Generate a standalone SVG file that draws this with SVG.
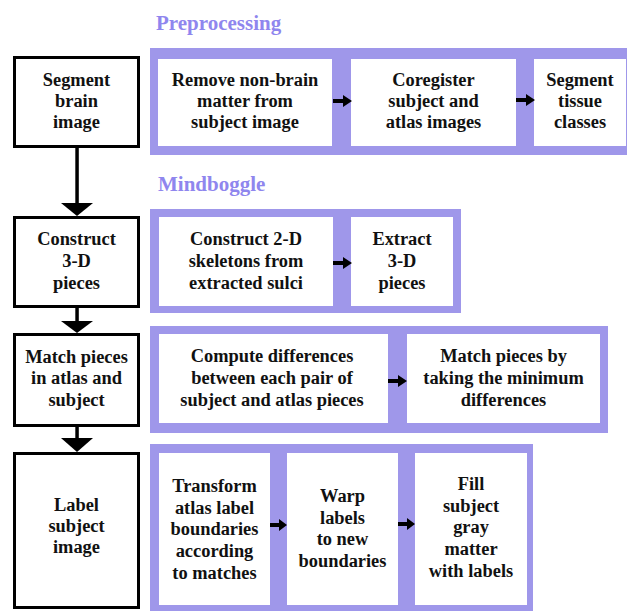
<svg xmlns="http://www.w3.org/2000/svg" width="627" height="611" viewBox="0 0 627 611">
<style>
.t{font-family:"Liberation Serif","Times New Roman",serif;font-weight:bold;font-size:18.4px;fill:#111;text-anchor:middle}
.h{font-family:"Liberation Serif","Times New Roman",serif;font-weight:bold;font-size:21px;fill:#8f86ee}
.panel{fill:#9f97ea}
.box{fill:#fff}
.lb{fill:#fff;stroke:#000;stroke-width:3}
.arr{fill:#000}
</style>
<rect width="627" height="611" fill="#fff"/>
<text class="h" x="156" y="30">Preprocessing</text>
<text class="h" x="158" y="191">Mindboggle</text>

<g id="panel-preprocessing">
<rect class="panel" x="150" y="48" width="479" height="107"/>
</g>
<g id="panel-mb1"><rect class="panel" x="150" y="209" width="311" height="104"/></g>
<g id="panel-mb2"><rect class="panel" x="150" y="326" width="458" height="107"/></g>
<g id="panel-mb3"><rect class="panel" x="150" y="444" width="383" height="167"/></g>

<g id="segment-brain"><rect class="lb" x="14.5" y="57.5" width="124" height="89"/>
<text class="t" x="76.5" y="86">Segment</text><text class="t" x="76.5" y="107">brain</text><text class="t" x="76.5" y="128">image</text></g>
<g id="construct-3d"><rect class="lb" x="14.5" y="217.5" width="124" height="89"/>
<text class="t" x="76.5" y="245">Construct</text><text class="t" x="76.5" y="267">3-D</text><text class="t" x="76.5" y="289">pieces</text></g>
<g id="match-pieces"><rect class="lb" x="14.5" y="334.5" width="124" height="91"/>
<text class="t" x="76.5" y="363">Match pieces</text><text class="t" x="76.5" y="384">in atlas and</text><text class="t" x="76.5" y="406">subject</text></g>
<g id="label-subject"><rect class="lb" x="14.5" y="453.5" width="124" height="154"/>
<text class="t" x="76.5" y="511">Label</text><text class="t" x="76.5" y="532">subject</text><text class="t" x="76.5" y="553">image</text></g>

<g id="remove-nonbrain"><rect class="box" x="158" y="59" width="174" height="87"/>
<text class="t" x="245" y="86">Remove non-brain</text><text class="t" x="245" y="107">matter from</text><text class="t" x="245" y="128">subject image</text></g>
<g id="coregister"><rect class="box" x="351" y="59" width="165" height="87"/>
<text class="t" x="433.5" y="86">Coregister</text><text class="t" x="433.5" y="107">subject and</text><text class="t" x="433.5" y="128">atlas images</text></g>
<g id="segment-tissue"><rect class="box" x="534" y="59" width="92" height="87"/>
<text class="t" x="580" y="86">Segment</text><text class="t" x="580" y="107">tissue</text><text class="t" x="580" y="128">classes</text></g>

<g id="construct-2d"><rect class="box" x="159" y="217" width="174" height="89"/>
<text class="t" x="246" y="245">Construct 2-D</text><text class="t" x="246" y="267">skeletons from</text><text class="t" x="246" y="289">extracted sulci</text></g>
<g id="extract-3d"><rect class="box" x="351" y="217" width="102" height="89"/>
<text class="t" x="402" y="245">Extract</text><text class="t" x="402" y="267">3-D</text><text class="t" x="402" y="289">pieces</text></g>

<g id="compute-diff"><rect class="box" x="159" y="334" width="229" height="89"/>
<text class="t" x="272" y="362">Compute differences</text><text class="t" x="272" y="384">between each pair of</text><text class="t" x="272" y="406">subject and atlas pieces</text></g>
<g id="match-min"><rect class="box" x="407" y="334" width="193" height="89"/>
<text class="t" x="503.5" y="362">Match pieces by</text><text class="t" x="503.5" y="384">taking the minimum</text><text class="t" x="503.5" y="406">differences</text></g>

<g id="transform"><rect class="box" x="159" y="453" width="111" height="152"/>
<text class="t" x="214.5" y="492">Transform</text><text class="t" x="214.5" y="514">atlas label</text><text class="t" x="214.5" y="535">boundaries</text><text class="t" x="214.5" y="557">according</text><text class="t" x="214.5" y="579">to matches</text></g>
<g id="warp"><rect class="box" x="287" y="453" width="111" height="152"/>
<text class="t" x="342.5" y="502">Warp</text><text class="t" x="342.5" y="524">labels</text><text class="t" x="342.5" y="545">to new</text><text class="t" x="342.5" y="567">boundaries</text></g>
<g id="fill"><rect class="box" x="415" y="453" width="112" height="152"/>
<text class="t" x="471" y="490">Fill</text><text class="t" x="471" y="512">subject</text><text class="t" x="471" y="533">gray</text><text class="t" x="471" y="555">matter</text><text class="t" x="471" y="577">with labels</text></g>

<g id="connectors">
<rect class="arr" x="75.3" y="147" width="3.5" height="57"/>
<polygon class="arr" points="61,203 93,203 77,216"/>
<rect class="arr" x="75.3" y="307" width="3.5" height="15"/>
<polygon class="arr" points="61,321 93,321 77,333"/>
<rect class="arr" x="75.3" y="426" width="3.5" height="13"/>
<polygon class="arr" points="61,438 93,438 77,452"/>
<path class="arr" d="M333,99 H343 V95 L352,101 L343,107 V103 H333 Z"/>
<path class="arr" d="M516,98 H526 V94 L535,100 L526,106 V102 H516 Z"/>
<path class="arr" d="M333,261 H343 V257 L352,263 L343,269 V265 H333 Z"/>
<path class="arr" d="M388,379 H398 V375 L407,381 L398,387 V383 H388 Z"/>
<path class="arr" d="M270,523 H279 V519 L287,525 L279,531 V527 H270 Z"/>
<path class="arr" d="M398,522 H407 V518 L415,524 L407,530 V526 H398 Z"/>
</g>
</svg>
